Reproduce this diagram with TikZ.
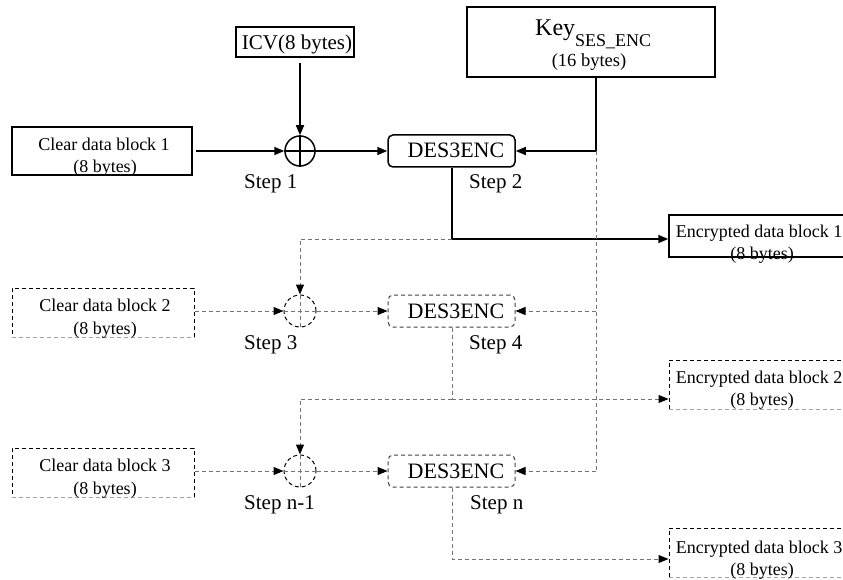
\documentclass[tikz,border=0pt]{standalone}
\usepackage{fontspec}
\setmainfont{Liberation Serif}
\usetikzlibrary{arrows.meta}
\newcommand{\myfs}[1]{\fontsize{#1}{#1}\selectfont}
\tikzset{
  sbox/.style={draw=black, line width=1.5pt, inner sep=0pt, rectangle},
  dbox/.style={draw=black, line width=1pt, dash pattern=on 4pt off 3pt, inner sep=0pt, rectangle},
  sround/.style={draw=black, line width=1.5pt, inner sep=0pt, rectangle, rounded corners=5pt, minimum width=127pt, minimum height=32pt},
  dround/.style={draw=black!75, line width=1pt, dash pattern=on 4pt off 3pt, inner sep=0pt, rectangle, rounded corners=5pt, minimum width=127pt, minimum height=32pt},
  sxor/.style={draw=black, line width=1.5pt, circle, inner sep=0pt, minimum size=30pt},
  dxor/.style={draw=black, line width=1pt, dash pattern=on 4pt off 3pt, circle, inner sep=0pt, minimum size=32pt},
  conn/.style={draw=black, line width=1.5pt},
  dconn/.style={draw=black!55, line width=1pt, dash pattern=on 4pt off 3pt},
  arr/.style={-{Triangle[length=10pt,width=8pt,color=black]}},
  txt/.style={inner sep=0pt, anchor=base},
  lbl/.style={inner sep=0pt, anchor=base west, font=\myfs{21}},
}
\begin{document}
\begin{tikzpicture}[x=1pt,y=-1pt]
\useasboundingbox (0,0) rectangle (843,580);

% boxes
\node[sbox, minimum width=118pt, minimum height=30pt] (icv) at (295,42) {};
\node[sbox, minimum width=248pt, minimum height=70pt] (key) at (591,42) {};
\node[sbox, minimum width=180pt, minimum height=48pt] (c1) at (102,151) {};
\node[dbox, minimum width=182pt, minimum height=49pt] (c2) at (103,312.5) {};
\node[dbox, minimum width=182pt, minimum height=49pt] (c3) at (103,472.5) {};
\node[sbox, minimum width=184pt, minimum height=42pt] (e1) at (761,236) {};
\node[dbox, minimum width=184pt, minimum height=49pt] (e2) at (761,384.5) {};
\node[dbox, minimum width=184pt, minimum height=49pt] (e3) at (761,552.5) {};
\node[sround] (d1) at (451.5,151) {};
\node[dround] (d2) at (451.5,311) {};
\node[dround] (d3) at (451.5,471) {};
\node[sxor] (x1) at (300,151) {};
\node[dxor] (x2) at (300,311) {};
\node[dxor] (x3) at (300,471) {};

% grey lower edges of dashed boxes
\foreach \b in {c2,c3,e2,e3}{
  \draw[white, line width=1.6pt] (\b.south west) -- (\b.south east);
  \draw[draw=black!35, line width=1pt, dash pattern=on 4pt off 3pt] (\b.south west) -- (\b.south east);
}

% crosshairs
\draw[conn] (x1.north) -- (x1.south) (x1.west) -- (x1.east);
\draw[dconn] (x2.north) -- (x2.south) (x2.west) -- (x2.east);
\draw[dconn] (x3.north) -- (x3.south) (x3.west) -- (x3.east);

% helper coordinates
\coordinate (k1) at (596,151);
\coordinate (k2) at (596,311);
\coordinate (k3) at (596,471);
\coordinate (o1) at (452,239);
\coordinate (f1) at (300,239);
\coordinate (o2) at (452,399);
\coordinate (f2) at (300,399);
\coordinate (o3) at (452,559);

% solid connectors
\draw[conn, arr, shorten <=5pt] (x1.north |- icv.south) -- (x1.north);
\draw[conn, arr, shorten <=3pt] (x1.west -| c1.east) -- (x1.west);
\draw[conn, arr] (x1.east) -- (d1.west);
\draw[conn] (key.south -| k1) -- (k1);
\draw[conn, arr] (k1) -- (d1.east);
\draw[conn, arr] (d1.south -| o1) -- (o1) -- (o1 -| e1.west);

% dashed connectors
\draw[dconn] (k1) -- (k3);
\draw[dconn, arr] (k2) -- (d2.east);
\draw[dconn, arr] (k3) -- (d3.east);
\draw[dconn, arr] (o1) -- (f1) -- (x2.north);
\draw[dconn, arr] (x2.west -| c2.east) -- (x2.west);
\draw[dconn, arr] (x2.east) -- (d2.west);
\draw[dconn] (d2.south -| o2) -- (o2);
\draw[dconn, arr] (o2) -- (o2 -| e2.west);
\draw[dconn, arr] (o2) -- (f2) -- (x3.north);
\draw[dconn, arr] (x3.west -| c3.east) -- (x3.west);
\draw[dconn, arr] (x3.east) -- (d3.west);
\draw[dconn, arr] (d3.south -| o3) -- (o3) -- (o3 -| e3.west);

% texts
\node[txt, font=\myfs{21}] at (297,50) {ICV(8 bytes)};
\node[inner sep=0pt, anchor=base west] at (535,36) {\myfs{24}Key\raisebox{-11pt}{\myfs{18}SES\_ENC}};
\node[txt, font=\myfs{18.5}] at (589,67) {(16 bytes)};

\node[txt, font=\myfs{18}] at (104,151) {Clear data block 1};
\node[txt, font=\myfs{18}] at (105,173) {(8 bytes)};
\node[txt, font=\myfs{18}] at (105,311) {Clear data block 2};
\node[txt, font=\myfs{18}] at (105,334) {(8 bytes)};
\node[txt, font=\myfs{18}] at (105,471) {Clear data block 3};
\node[txt, font=\myfs{18}] at (105,494) {(8 bytes)};

\node[txt, font=\myfs{18}] at (759,237) {Encrypted data block 1};
\node[txt, font=\myfs{18}] at (762,259) {(8 bytes)};
\node[txt, font=\myfs{18}] at (759,383) {Encrypted data block 2};
\node[txt, font=\myfs{18}] at (762,405) {(8 bytes)};
\node[txt, font=\myfs{18}] at (759,553) {Encrypted data block 3};
\node[txt, font=\myfs{18}] at (762,575) {(8 bytes)};

\node[txt, font=\myfs{22}] at (456,158) {DES3ENC};
\node[txt, font=\myfs{22}] at (456,318) {DES3ENC};
\node[txt, font=\myfs{22}] at (456,478) {DES3ENC};

\node[lbl] at (244,189) {Step 1};
\node[lbl] at (469,189) {Step 2};
\node[lbl] at (244,349) {Step 3};
\node[lbl] at (469,349) {Step 4};
\node[lbl] at (244,509) {Step n-1};
\node[lbl] at (470,509) {Step n};
\end{tikzpicture}
\end{document}
